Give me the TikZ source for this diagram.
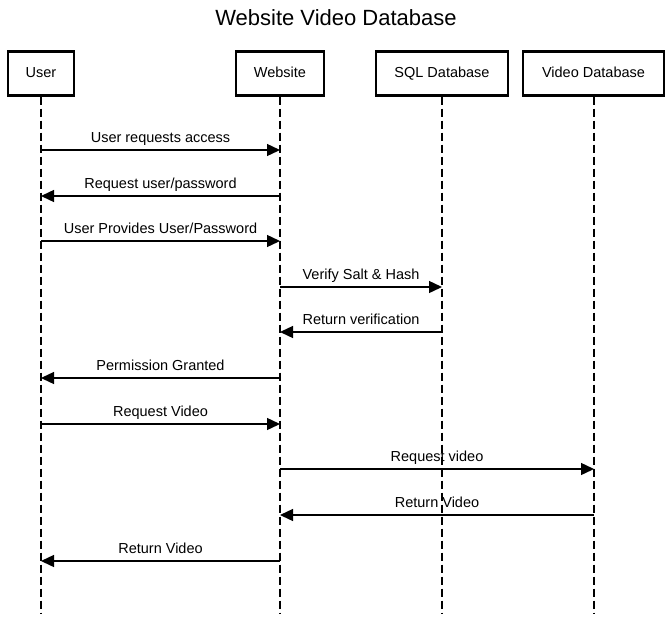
\documentclass[tikz,border=0pt]{standalone}
\usepackage{fontspec}
\setmainfont{Liberation Sans}
\usetikzlibrary{arrows.meta}
\begin{document}
\begin{tikzpicture}[x=1pt,y=-1pt,
  actor/.style={draw,line width=2.4pt,minimum height=44pt,inner sep=0pt,text height=10.5pt,text depth=3pt,font=\fontsize{14.5}{17}\selectfont},
  life/.style={line width=1.4pt,dash pattern=on 8pt off 4pt},
  msg/.style={line width=1.4pt,-{Triangle[length=13pt,width=12pt]}},
  lbl/.style={font=\fontsize{14.5}{17}\selectfont,inner sep=1pt,text height=10.5pt,text depth=3pt}]
\useasboundingbox (0,0) rectangle (671,618);
\node[font=\fontsize{22}{26}\selectfont] (title) at (336,18) {Website Video Database};
\node[actor,minimum width=66pt] (user) at (41,73.5) {User};
\node[actor,minimum width=88pt] (web) at (280,73.5) {Website};
\node[actor,minimum width=132pt] (sql) at (442,73.5) {SQL Database};
\node[actor,minimum width=141pt] (vid) at (593.5,73.5) {Video Database};
\coordinate (ue) at (41,613);
\coordinate (we) at (280,613);
\coordinate (se) at (442,613);
\coordinate (ve) at (594,613);
\draw[life] (user.south) -- (ue);
\draw[life] (web.south) -- (we);
\draw[life] (sql.south) -- (se);
\draw[life] ([xshift=0.5pt]vid.south) -- (ve);
% message anchors
\foreach \n/\y in {1/150,2/196,3/241,4/287,5/332,6/378,7/424,8/469,9/515,10/561}{
  \coordinate (u\n) at (41,\y);
  \coordinate (w\n) at (280,\y);
  \coordinate (s\n) at (442,\y);
  \coordinate (v\n) at (594,\y);
}
\draw[msg] (u1) -- node[lbl,above=3pt] {User requests access} (w1);
\draw[msg] (w2) -- node[lbl,above=3pt] {Request user/password} (u2);
\draw[msg] (u3) -- node[lbl,above=3pt] {User Provides User/Password} (w3);
\draw[msg] (w4) -- node[lbl,above=3pt] {Verify Salt \& Hash} (s4);
\draw[msg] (s5) -- node[lbl,above=3pt] {Return verification} (w5);
\draw[msg] (w6) -- node[lbl,above=3pt] {Permission Granted} (u6);
\draw[msg] (u7) -- node[lbl,above=3pt] {Request Video} (w7);
\draw[msg] (w8) -- node[lbl,above=3pt] {Request video} (v8);
\draw[msg] (v9) -- node[lbl,above=3pt] {Return Video} (w9);
\draw[msg] (w10) -- node[lbl,above=3pt] {Return Video} (u10);
\end{tikzpicture}
\end{document}
